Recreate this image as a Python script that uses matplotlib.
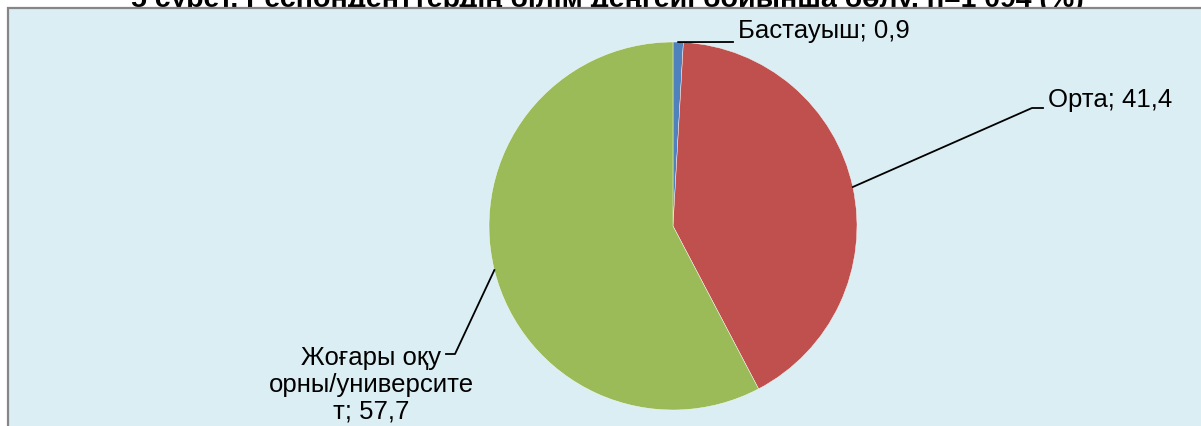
import numpy as np
import matplotlib
matplotlib.use("Agg")
import matplotlib.pyplot as plt
from matplotlib.patches import Rectangle

# ---- data ----
categories = ["Бастауыш", "Орта", "Жоғары оқу орны/университет"]
values = [0.9, 41.4, 57.7]
colors = ["#4F81BD", "#C0504D", "#9BBB59"]
label_texts = ["Бастауыш; 0,9", "Орта; 41,4", "Жоғары оқу\nорны/университе\nт; 57,7"]
title = "5 сурет. Респонденттердің білім деңгейі бойынша бөлу, n=1 094 (%)"

W, H = 1201, 427
fig = plt.figure(figsize=(W / 100, H / 100), dpi=100)
fig.patch.set_facecolor("white")

# title (partially hidden behind chart area, as in the reference)
fig.text(607 / W, 1 - 7 / H, title, ha="center", va="baseline",
         fontsize=20.5, fontweight="bold", family="Liberation Sans", color="black", zorder=0)

# chart area
fig.patches.append(Rectangle((7.5 / W, -0.1), 1.2, 1 - 8.5 / H + 0.1,
                             transform=fig.transFigure, facecolor="#DAEEF3",
                             edgecolor="#868686", linewidth=1.6, zorder=1))

cx, cy, r = 673, 227, 184
ax = fig.add_axes([(cx - r) / W, (H - cy - r) / H, 2 * r / W, 2 * r / H], zorder=2)

wedges, _ = ax.pie(values, colors=colors, startangle=90, counterclock=False,
                   radius=1, wedgeprops=dict(linewidth=0.3, edgecolor="white"))
ax.set_xlim(-1, 1)
ax.set_ylim(-1, 1)
ax.set_aspect("auto")
ax.axis("off")
ax.patch.set_alpha(0)

def px(x, y):
    return ((x - cx) / r, (cy - y) / r)

# leader lines from wedge mid-angles
fs = 18.5
font = dict(family="Liberation Sans", fontsize=fs, color="black")
mids = [np.deg2rad((w.theta1 + w.theta2) / 2) for w in wedges]
starts = [(np.cos(a), np.sin(a)) for a in mids]

# Бастауыш
e1 = px(733, 43)
ax.plot([starts[0][0], e1[0]], [starts[0][1], e1[1]], color="black", lw=1.3, clip_on=False)
t = px(738, 38)
ax.text(t[0], t[1], label_texts[0], ha="left", va="baseline", clip_on=False, **font)

# Орта
k = px(1032, 109)
e2 = px(1043, 109)
ax.plot([starts[1][0], k[0], e2[0]], [starts[1][1], k[1], e2[1]], color="black", lw=1.3, clip_on=False)
t = px(1048, 100)
ax.text(t[0], t[1], label_texts[1], ha="left", va="center", clip_on=False, **font)

# Жоғары оқу
k = px(455, 355)
e3 = px(446, 355)
ax.plot([starts[2][0], k[0], e3[0]], [starts[2][1], k[1], e3[1]], color="black", lw=1.3, clip_on=False)
t = px(371, 385)
ax.text(t[0], t[1], label_texts[2], ha="center", va="center", multialignment="center",
        linespacing=1.15, clip_on=False, **font)

fig.savefig("out.png", dpi=100)
